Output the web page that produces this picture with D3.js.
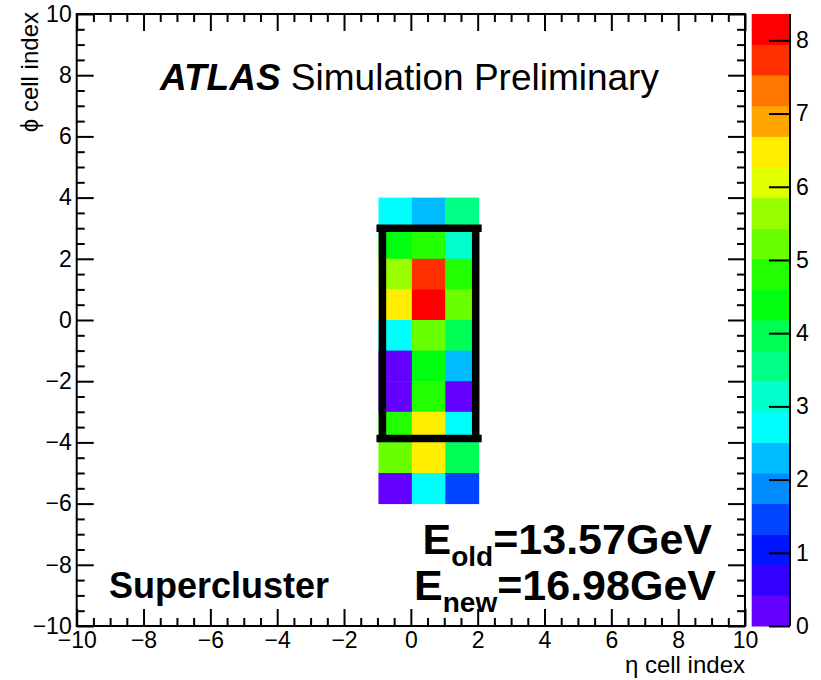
<!DOCTYPE html>
<html>
<head>
<meta charset="utf-8">
<script src="https://cdn.jsdelivr.net/npm/d3@7"></script>
<style>
  body { margin: 0; background: #fff; }
  svg text { font-family: "Liberation Sans", Arial, Helvetica, sans-serif; }
  .axis path { display: none; }
  .axis line { stroke: #000; stroke-width: 2; }
</style>
</head>
<body>
<svg id="chart" width="821" height="680"></svg>
<script>
// cell bin edges
var etaEdges = [-1, 0, 1, 2];
var phiEdges = [4, 3, 2, 1, 0, -1, -2, -3, -4, -5, -6];
// cell contents, rows from top (phi 3..4) to bottom (phi -6..-5), columns eta -1..2
var cellE = [
  [2.70, 2.25, 3.50],
  [4.35, 4.75, 3.10],
  [5.60, 7.75, 4.80],
  [6.45, 8.36, 5.20],
  [2.75, 5.25, 4.00],
  [0.20, 4.40, 2.30],
  [0.25, 4.85, 0.15],
  [4.80, 6.50, 2.70],
  [5.20, 6.40, 3.95],
  [0.20, 2.65, 1.45]
];
// supercluster box (eta, phi)
var boxEta = [-1, 2];
var boxPhi = [-4, 3];
var majorTicks = [-10, -8, -6, -4, -2, 0, 2, 4, 6, 8, 10];
var zTicks = [0, 1, 2, 3, 4, 5, 6, 7, 8];
var nContours = 20;

var svg = d3.select("#chart");
var fLeft = 76.7, fRight = 745, fTop = 14, fBottom = 626;

var x = d3.scaleLinear().domain([-10, 10]).range([fLeft, fRight]);
var y = d3.scaleLinear().domain([-10, 10]).range([fBottom, fTop]);
var zmax = d3.max(cellE, function(r) { return d3.max(r); });
var zy = d3.scaleLinear().domain([0, zmax]).range([fBottom, fTop]);

// ROOT "pretty" palette, 50 colours, mapped on 20 contours
function bandColor(b) {
  var idx = Math.min(49, Math.floor((b + 0.99) * 50 / nContours));
  var hue = 280 - (idx + 1) * 5.6;
  return d3.hsl(hue, 1, 0.5).formatHex();
}
function band(v) { return Math.min(nContours - 1, Math.floor(v / zmax * nContours)); }

var minor = d3.range(-10, 10.01, 0.5).filter(function(v) { return majorTicks.indexOf(v) < 0; });

// cells
var cells = [];
cellE.forEach(function(row, i) {
  row.forEach(function(v, j) {
    cells.push({e0: etaEdges[j], e1: etaEdges[j + 1], p0: phiEdges[i + 1], p1: phiEdges[i], v: v});
  });
});
svg.append("g").selectAll("rect").data(cells).enter().append("rect")
  .attr("x", function(d) { return x(d.e0) + 1; })
  .attr("y", function(d) { return y(d.p1); })
  .attr("width", function(d) { return x(d.e1) - x(d.e0) + 0.5; })
  .attr("height", function(d) { return y(d.p0) - y(d.p1) + 0.5; })
  .attr("fill", function(d) { return bandColor(band(d.v)); });

// box
var bx = svg.append("g").attr("stroke", "#000").attr("stroke-width", 7.5);
bx.append("line").attr("x1", x(boxEta[0]) - 1).attr("x2", x(boxEta[1]) + 4)
  .attr("y1", y(boxPhi[1])).attr("y2", y(boxPhi[1]));
bx.append("line").attr("x1", x(boxEta[0]) - 1).attr("x2", x(boxEta[1]) + 4)
  .attr("y1", y(boxPhi[0]) - 4).attr("y2", y(boxPhi[0]) - 4);
[boxEta[0], boxEta[1]].forEach(function(e, k) {
  var px = k === 0 ? x(e) + 5 : x(e) - 2;
  bx.append("line").attr("x1", px).attr("x2", px)
    .attr("y1", y(boxPhi[1])).attr("y2", y(boxPhi[0]) - 4);
});

// axes
function fmt(d) { return d3.format("")(d); }
function axisG(tr) {
  return svg.append("g").attr("class", "axis").attr("transform", tr);
}
axisG("translate(0," + fBottom + ")")
  .call(d3.axisBottom(x).tickValues(majorTicks).tickSize(-17).tickPadding(6).tickFormat(fmt))
  .attr("font-size", 23).attr("font-family", null);
axisG("translate(0," + fBottom + ")")
  .call(d3.axisBottom(x).tickValues(minor).tickSize(-8).tickFormat(""));
axisG("translate(0," + fTop + ")")
  .call(d3.axisTop(x).tickValues(majorTicks).tickSize(-17).tickFormat(""));
axisG("translate(0," + fTop + ")")
  .call(d3.axisTop(x).tickValues(minor).tickSize(-8).tickFormat(""));
axisG("translate(" + fLeft + ",0)")
  .call(d3.axisLeft(y).tickValues(majorTicks).tickSize(-17).tickPadding(5).tickFormat(fmt))
  .attr("font-size", 23).attr("font-family", null);
axisG("translate(" + fLeft + ",0)")
  .call(d3.axisLeft(y).tickValues(minor).tickSize(-8).tickFormat(""));
axisG("translate(" + fRight + ",0)")
  .call(d3.axisRight(y).tickValues(majorTicks).tickSize(-17).tickFormat(""));
axisG("translate(" + fRight + ",0)")
  .call(d3.axisRight(y).tickValues(minor).tickSize(-8).tickFormat(""));

svg.append("rect").attr("x", fLeft).attr("y", fTop)
  .attr("width", fRight - fLeft).attr("height", fBottom - fTop)
  .attr("fill", "none").attr("stroke", "#000").attr("stroke-width", 2);

// palette
var barL = 751.7, barR = 790;
var bands = d3.range(nContours);
svg.append("g").selectAll("rect").data(bands).enter().append("rect")
  .attr("x", barL).attr("width", barR - barL)
  .attr("y", function(b) { return zy((b + 1) * zmax / nContours); })
  .attr("height", function(b) { return zy(b * zmax / nContours) - zy((b + 1) * zmax / nContours) + 0.5; })
  .attr("fill", bandColor);
axisG("translate(" + barR + ",0)")
  .call(d3.axisRight(zy).tickValues(zTicks).tickSize(-21).tickPadding(6).tickFormat(d3.format("d")))
  .attr("font-size", 23).attr("font-family", null);
svg.append("line").attr("x1", barR).attr("x2", barR).attr("y1", fTop).attr("y2", fBottom)
  .attr("stroke", "#000").attr("stroke-width", 2);

// axis titles
svg.append("text").attr("x", fRight).attr("y", 673).attr("text-anchor", "end")
  .attr("font-size", 24).text("η cell index");
svg.append("text").attr("transform", "translate(38," + (fTop - 2) + ") rotate(-90)")
  .attr("text-anchor", "end").attr("font-size", 24).text("ϕ cell index");

// labels
var t = svg.append("text").attr("x", 160).attr("y", 90).attr("font-size", 37);
t.append("tspan").attr("font-weight", "bold").attr("font-style", "italic").text("ATLAS");
t.append("tspan").text(" Simulation Preliminary");

svg.append("text").attr("x", 109).attr("y", 598).attr("font-size", 36)
  .attr("font-weight", "bold").text("Supercluster");

function energy(label, val, xEnd, yBase) {
  var g = svg.append("text").attr("x", xEnd).attr("y", yBase).attr("text-anchor", "end")
    .attr("font-size", 43).attr("font-weight", "bold");
  g.append("tspan").text("E");
  g.append("tspan").attr("font-size", 28).attr("dy", 12).text(label);
  g.append("tspan").attr("dy", -12).text("=" + val + "GeV");
}
energy("old", "13.57", 712, 554);
energy("new", "16.98", 716, 600);
</script>
</body>
</html>
